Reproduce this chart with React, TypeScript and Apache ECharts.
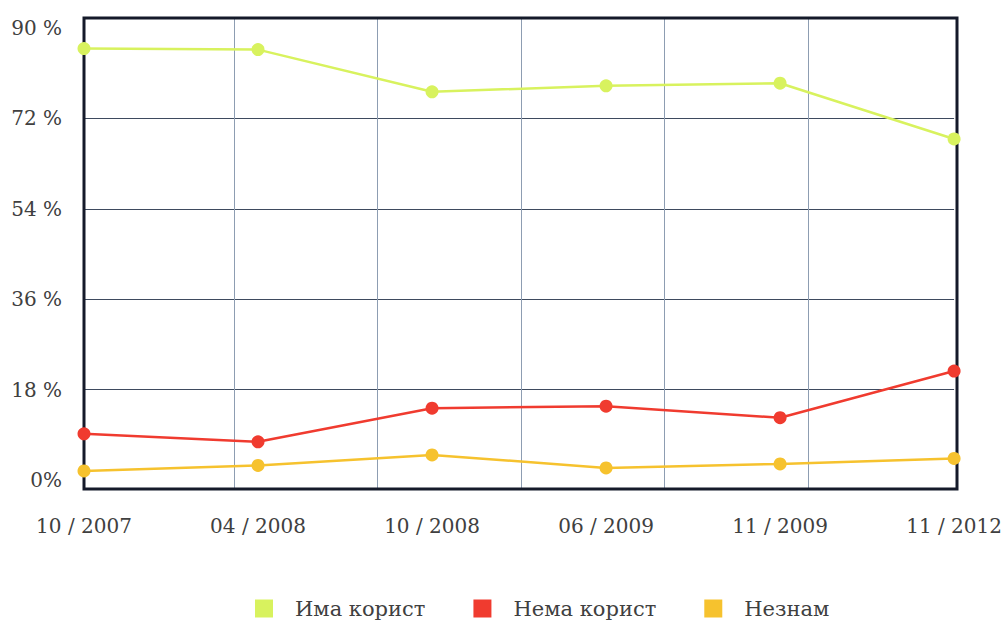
import React, { useEffect, useRef } from "react";
import * as echarts from "echarts";

const categories = ["10 / 2007", "04 / 2008", "10 / 2008", "06 / 2009", "11 / 2009", "11 / 2012"];
const imaKorist = [85.9, 85.7, 77.3, 78.5, 79.0, 67.9];
const nemaKorist = [9.2, 7.6, 14.3, 14.7, 12.4, 21.7];
const neznam = [1.8, 2.9, 5.0, 2.4, 3.2, 4.3];
const yTickLabels: Record<number, string> = { 0: "0%", 18: "18 %", 36: "36 %", 54: "54 %", 72: "72 %", 90: "90 %" };

const GREEN = "#d8f25e";
const RED = "#f03b2f";
const YELLOW = "#f6c22e";
const FONT = "DejaVu Serif";
const TEXT = "#404040";

export default function App() {
  const ref = useRef<HTMLDivElement>(null);
  useEffect(() => {
    if (!ref.current) return;
    const chart = echarts.init(ref.current, undefined, { renderer: "svg" });
    const line = (name: string, data: number[], color: string) => ({
      name,
      type: "line",
      xAxisIndex: 0,
      yAxisIndex: 0,
      data,
      symbol: "circle",
      symbolSize: 13,
      lineStyle: { color, width: 2.5 },
      itemStyle: { color },
      z: 5,
    });
    chart.setOption({
      animation: false,
      backgroundColor: "#ffffff",
      textStyle: { fontFamily: FONT },
      grid: [
        { left: 84, right: 48, top: 28, bottom: 143 },
        { left: 90.5, right: 53.5, top: 18, bottom: 134 },
      ],
      legend: {
        top: 593,
        left: 250,
        icon: "rect",
        itemWidth: 18,
        itemHeight: 18,
        itemGap: 48,
        textStyle: { fontFamily: FONT, fontSize: 21, color: TEXT, padding: [0, 0, 0, 17] },
        data: ["Има корист", "Нема корист", "Незнам"],
      },
      xAxis: [
        {
          type: "category",
          gridIndex: 0,
          data: categories,
          boundaryGap: false,
          axisLine: { show: false },
          axisTick: { show: false },
          splitLine: { show: false },
          axisLabel: { fontFamily: FONT, fontSize: 20, color: TEXT, margin: 36 },
        },
        {
          type: "value",
          gridIndex: 1,
          min: 0,
          max: 6,
          interval: 1,
          axisLine: { show: false },
          axisTick: { show: false },
          axisLabel: { show: false },
          splitLine: { show: true, lineStyle: { color: ["transparent", "#8d9db2", "#8d9db2", "#8d9db2", "#8d9db2", "#8d9db2", "transparent"], width: 1 } },
        },
      ],
      yAxis: [
        {
          type: "value",
          gridIndex: 0,
          min: 0,
          max: 90,
          interval: 18,
          axisLine: { show: false },
          axisTick: { show: false },
          axisLabel: {
            fontFamily: FONT,
            fontSize: 20,
            color: TEXT,
            margin: 22,
            padding: [0, 0, 10, 0],
            formatter: (v: number) => yTickLabels[v] ?? String(v),
          },
          splitLine: { show: true, lineStyle: { color: ["transparent", "#3e4a5e", "#3e4a5e", "#3e4a5e", "#3e4a5e", "transparent"], width: 1 } },
        },
        {
          type: "value",
          gridIndex: 1,
          min: 0,
          max: 1,
          show: false,
          splitLine: { show: false },
        },
      ],
      graphic: [
        {
          type: "rect",
          shape: { x: 84, y: 18, width: 873, height: 471 },
          style: { fill: "none", stroke: "#151a2a", lineWidth: 3 },
          z: 1,
        },
      ],
      series: [
        line("Има корист", imaKorist, GREEN),
        line("Нема корист", nemaKorist, RED),
        line("Незнам", neznam, YELLOW),
      ],
    });
    return () => chart.dispose();
  }, []);
  return <div ref={ref} style={{ width: 1005, height: 623, position: "absolute", left: 0, top: 0 }} />;
}
